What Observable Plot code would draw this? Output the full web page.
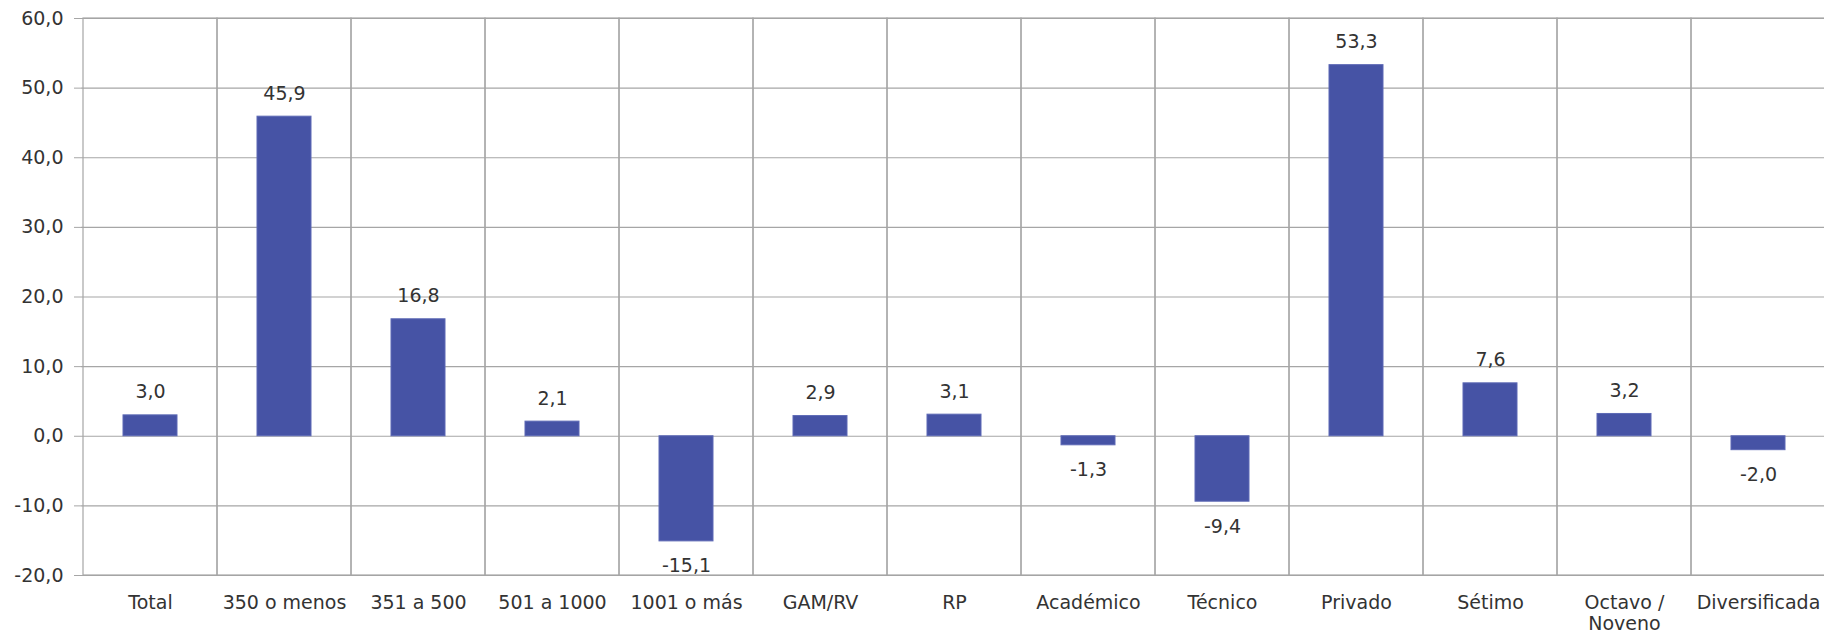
<!DOCTYPE html>
<html>
<head>
<meta charset="utf-8">
<script src="https://cdn.jsdelivr.net/npm/d3@7"></script>
<script src="https://cdn.jsdelivr.net/npm/@observablehq/plot@0.6"></script>
<style>
  html, body { margin: 0; padding: 0; background: #fff; overflow: hidden; }
  #chart svg { display: block; }
</style>
</head>
<body>
<div id="chart"></div>
<script>
const categories = ["Total", "350 o menos", "351 a 500", "501 a 1000", "1001 o más", "GAM/RV", "RP", "Académico", "Técnico", "Privado", "Sétimo", "Octavo /\nNoveno", "Diversificada"];
const values = [3.0, 45.9, 16.8, 2.1, -15.1, 2.9, 3.1, -1.3, -9.4, 53.3, 7.6, 3.2, -2.0];
const yTicks = [-20, -10, 0, 10, 20, 30, 40, 50, 60];

const data = categories.map((c, i) => ({cat: c, value: values[i]}));
const fmt = v => v.toFixed(1).replace(".", ",");
const grid = "#a6a6a6";
const textColor = "#333333";

const chart = Plot.plot({
  width: 1824,
  height: 631,
  marginLeft: 81,
  marginRight: -3,
  marginTop: 18,
  marginBottom: 56,
  style: {fontFamily: "DejaVu Sans, Verdana, sans-serif", fontSize: "19px", background: "#fff", overflow: "visible"},
  x: {domain: categories, padding: 0, label: null},
  y: {domain: [-20, 60], label: null},
  marks: [
    Plot.ruleY(yTicks, {stroke: grid, strokeWidth: 1.2}),
    Plot.barY(categories, {x: d => d, y1: -20, y2: 60, fill: "none", stroke: grid, strokeWidth: 1.2}),
    Plot.axisY(yTicks, {tickSize: 7, tickPadding: 11, stroke: grid, fill: textColor, tickFormat: fmt, label: null}),
    Plot.axisX({tickSize: 0, tickPadding: 19, fill: textColor, label: null, lineHeight: 1.1}),
    Plot.barY(data, {x: "cat", y: "value", fill: "#4653a5", stroke: "#5d69b5", strokeWidth: 1, insetLeft: 40, insetRight: 40}),
    Plot.text(data.filter(d => d.value >= 0), {x: "cat", y: "value", text: d => fmt(d.value), dy: -23, fill: textColor}),
    Plot.text(data.filter(d => d.value < 0), {x: "cat", y: "value", text: d => fmt(d.value), dy: 25, fill: textColor})
  ]
});
document.getElementById("chart").appendChild(chart);
</script>
</body>
</html>
